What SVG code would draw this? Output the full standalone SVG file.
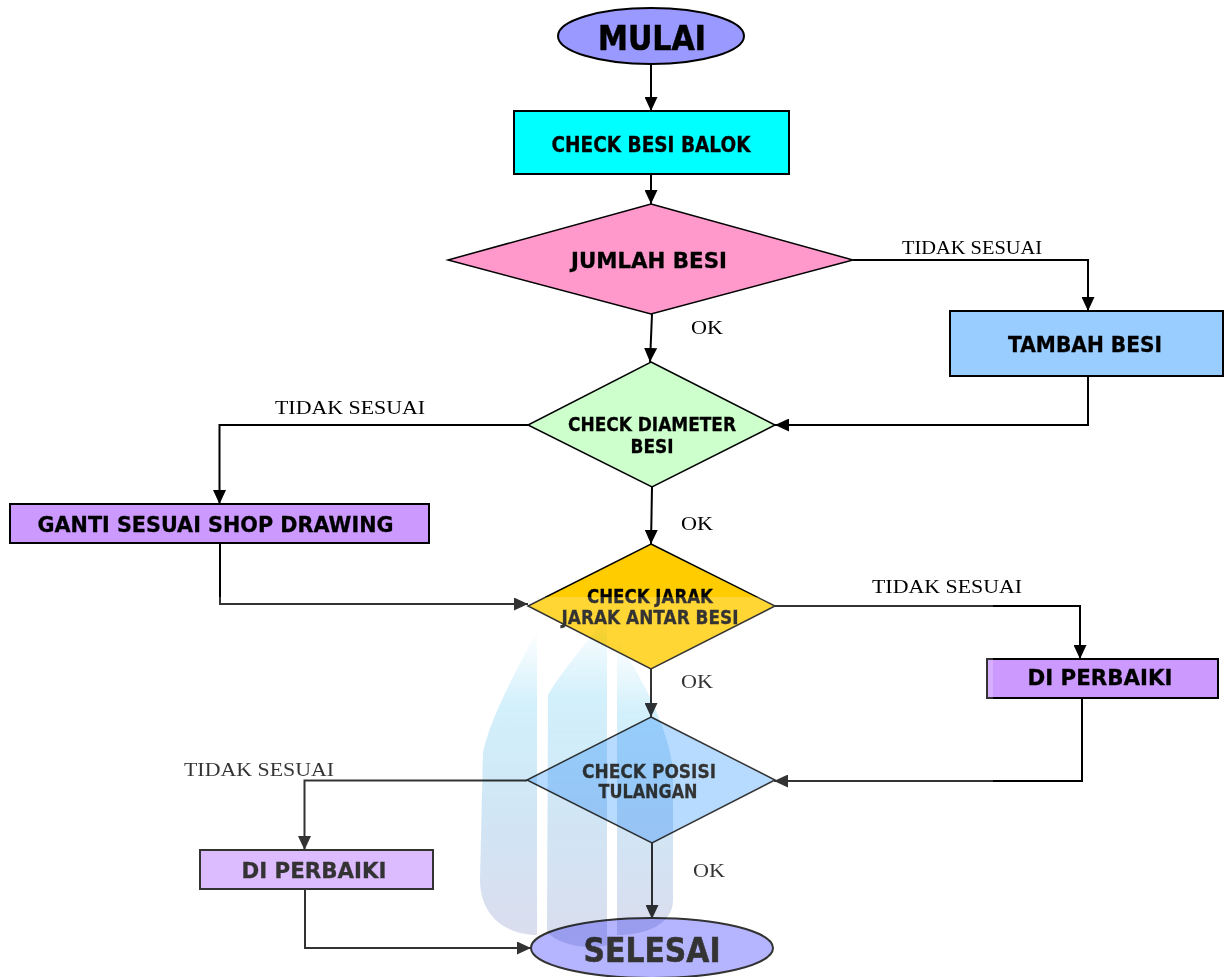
<svg xmlns="http://www.w3.org/2000/svg" width="1225" height="977" viewBox="0 0 1225 977">
<defs>
<marker id="arr" markerUnits="userSpaceOnUse" markerWidth="14" markerHeight="13" refX="14" refY="6.5" orient="auto">
<path d="M0,0 L14,6.5 L0,13 z" fill="#000"/>
</marker>
<linearGradient id="wm" x1="0" y1="0" x2="0" y2="1">
<stop offset="0" stop-color="#a9e2f7" stop-opacity="0"/>
<stop offset="0.25" stop-color="#a9e2f7" stop-opacity="0.8"/>
<stop offset="0.6" stop-color="#b8d8f0"/>
<stop offset="1" stop-color="#c6cbe4"/>
</linearGradient>
<style>
.box{stroke:#000;stroke-width:2}
.dia{stroke:#000;stroke-width:1.5}
.lbl{font-family:"DejaVu Sans",Verdana,sans-serif;font-weight:bold;fill:#000;stroke:#000;stroke-width:0.3;text-anchor:middle}
.big{font-size:33px;stroke-width:0.6}
.b20{font-size:21px}
.b18{font-size:19px}
.cond{font-family:"Liberation Serif","Times New Roman",serif;font-size:19px;fill:#000}
.conn path{fill:none;stroke:#000;stroke-width:2}
</style>
</defs>
<rect width="1225" height="977" fill="#fff"/>

<g id="n-mulai">
<ellipse cx="651" cy="36" rx="93" ry="28" fill="#9999ff" class="box"/>
<text x="652" y="50" class="lbl big" textLength="108" lengthAdjust="spacingAndGlyphs">MULAI</text>
</g>
<g id="n-checkbesi">
<rect x="514" y="111" width="275" height="63" fill="#00ffff" class="box"/>
<text x="651" y="152" class="lbl b20" textLength="199" lengthAdjust="spacingAndGlyphs">CHECK BESI BALOK</text>
</g>
<g id="n-jumlah">
<polygon points="651,204 853,260 651,314 448,260" fill="#ff99cc" class="dia"/>
<text x="649" y="268" class="lbl b20" textLength="156" lengthAdjust="spacingAndGlyphs">JUMLAH BESI</text>
</g>
<g id="n-tambah">
<rect x="950" y="311" width="273" height="65" fill="#99ccff" class="box"/>
<text x="1085" y="352" class="lbl b20" textLength="154" lengthAdjust="spacingAndGlyphs">TAMBAH BESI</text>
</g>
<g id="n-diameter">
<polygon points="651,362 775,425 652,487 528,425" fill="#ccffcc" class="dia"/>
<text x="652" y="431" class="lbl b18" textLength="168" lengthAdjust="spacingAndGlyphs">CHECK DIAMETER</text>
<text x="652" y="453" class="lbl b18" textLength="43" lengthAdjust="spacingAndGlyphs">BESI</text>
</g>
<g id="n-ganti">
<rect x="10" y="504" width="419" height="39" fill="#cc99ff" class="box"/>
<text x="215.5" y="532" class="lbl b20" textLength="356" lengthAdjust="spacingAndGlyphs">GANTI SESUAI SHOP DRAWING</text>
</g>
<g id="n-jarak">
<polygon points="651,544 775,606 651,669 528,606" fill="#ffcc00" class="dia"/>
<text x="650" y="603" class="lbl b18" textLength="126" lengthAdjust="spacingAndGlyphs">CHECK JARAK</text>
<text x="650" y="624" class="lbl b18" textLength="177" lengthAdjust="spacingAndGlyphs">JARAK ANTAR BESI</text>
</g>
<g id="n-perbaiki1">
<rect x="987" y="659" width="231" height="39" fill="#cc99ff" class="box"/>
<text x="1100" y="685" class="lbl b20" textLength="145" lengthAdjust="spacingAndGlyphs">DI PERBAIKI</text>
</g>
<g id="n-posisi">
<polygon points="651,717 775,780 652,843 527,780" fill="#a6d2ff" class="dia"/>
<text x="649" y="778" class="lbl b18" textLength="134" lengthAdjust="spacingAndGlyphs">CHECK POSISI</text>
<text x="648" y="798" class="lbl b18" textLength="99" lengthAdjust="spacingAndGlyphs">TULANGAN</text>
</g>
<g id="n-perbaiki2">
<rect x="200" y="850" width="233" height="39" fill="#d4aaff" class="box"/>
<text x="314" y="878" class="lbl b20" textLength="145" lengthAdjust="spacingAndGlyphs">DI PERBAIKI</text>
</g>
<g id="n-selesai">
<ellipse cx="652" cy="948" rx="121" ry="30" fill="#a3a3ff" class="box"/>
<text x="652" y="962" class="lbl big" textLength="137" lengthAdjust="spacingAndGlyphs">SELESAI</text>
</g>

<g id="connectors" class="conn">
<path d="M651,64 V111" marker-end="url(#arr)"/>
<path d="M651,174 V204" marker-end="url(#arr)"/>
<path d="M652,314 L650,362" marker-end="url(#arr)"/>
<path d="M853,260 H1088 V311" marker-end="url(#arr)"/>
<path d="M1088,376 V425 H775" marker-end="url(#arr)"/>
<path d="M528,425 H219.5 V504" marker-end="url(#arr)"/>
<path d="M220,543 V604 H528" marker-end="url(#arr)"/>
<path d="M652,487 L651,544" marker-end="url(#arr)"/>
<path d="M775,606 H1080 V659" marker-end="url(#arr)"/>
<path d="M1082,698 V781 H774" marker-end="url(#arr)"/>
<path d="M651,669 V717" marker-end="url(#arr)"/>
<path d="M527,780.5 H304.5 V850" marker-end="url(#arr)"/>
<path d="M305,889 V948 H531" marker-end="url(#arr)"/>
<path d="M652,843 V919" marker-end="url(#arr)"/>
<text class="cond" x="902" y="254" textLength="140" lengthAdjust="spacingAndGlyphs">TIDAK SESUAI</text>
<text class="cond" x="275" y="414" textLength="150" lengthAdjust="spacingAndGlyphs">TIDAK SESUAI</text>
<text class="cond" x="872" y="593" textLength="150" lengthAdjust="spacingAndGlyphs">TIDAK SESUAI</text>
<text class="cond" x="184" y="776" textLength="150" lengthAdjust="spacingAndGlyphs">TIDAK SESUAI</text>
<text class="cond" x="691" y="334" font-size="20" textLength="32" lengthAdjust="spacingAndGlyphs">OK</text>
<text class="cond" x="681" y="530" font-size="20" textLength="32" lengthAdjust="spacingAndGlyphs">OK</text>
<text class="cond" x="681" y="688" font-size="20" textLength="32" lengthAdjust="spacingAndGlyphs">OK</text>
<text class="cond" x="693" y="877" font-size="20" textLength="32" lengthAdjust="spacingAndGlyphs">OK</text>
</g>

<g id="watermark">
<rect x="170" y="597" width="823" height="380" fill="#fff" opacity="0.2"/>
<g fill="url(#wm)" style="mix-blend-mode:multiply" opacity="0.65">
<path d="M537,630 C520,665 492,712 483,752 L480,880 C480,915 505,935 537,935 Z"/>
<path d="M607,615 C590,640 562,670 548,695 L547,932 C560,946 590,950 607,945 Z"/>
<path d="M617,640 C640,675 668,725 673,770 L673,900 C673,925 645,935 617,935 Z"/>
</g>
</g>
</svg>
